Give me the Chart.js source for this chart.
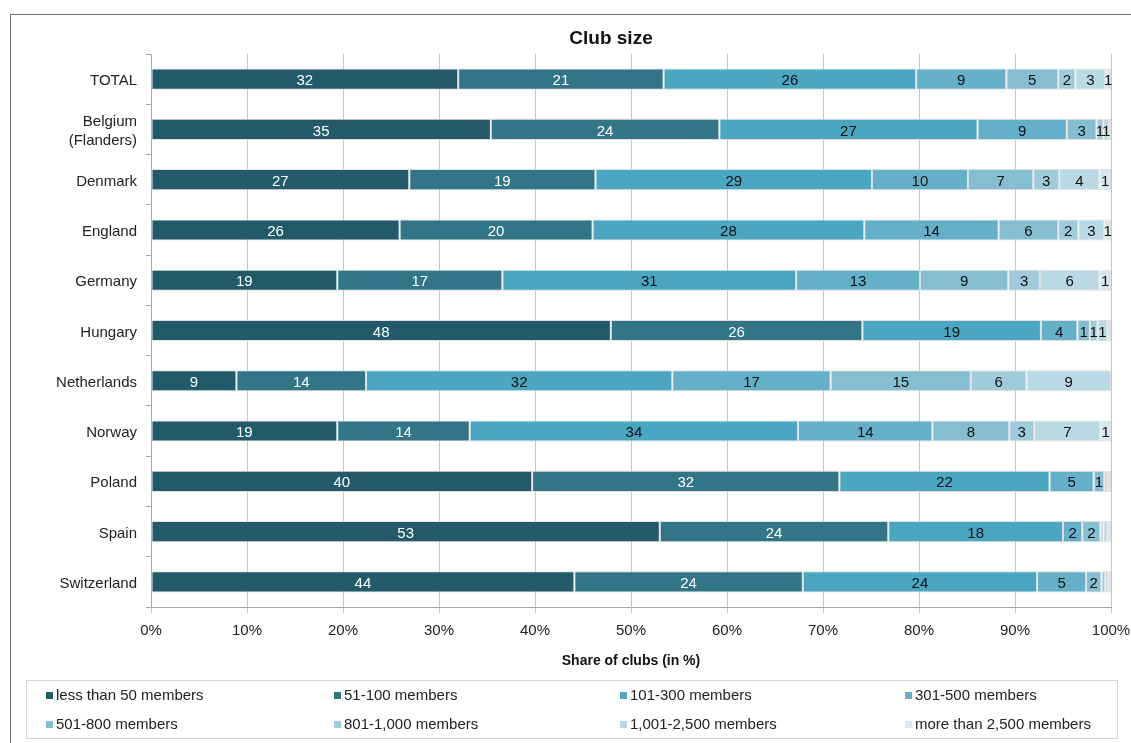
<!DOCTYPE html>
<html lang="en">
<head>
  <meta charset="UTF-8">
  <title>Club size</title>
  <script src="https://cdn.jsdelivr.net/npm/chart.js"></script>
  <style>
    body { margin: 0; background: #fff; font-family: "Liberation Sans", Arial, sans-serif; overflow: hidden; }
    #wrap { position: relative; width: 1131px; height: 743px; }
    #frame { position: absolute; left: 10px; top: 14px; width: 1200px; height: 800px; border: 1px solid #6e6e6e; }
    #chart { position: absolute; left: 0; top: 0; }
    #title { position: absolute; left: 511px; width: 200px; top: 26px; text-align: center; font-size: 19px; font-weight: bold; color: #111; line-height: 24px; }
    #legend { position: absolute; left: 26px; top: 680px; width: 1092px; height: 59px; border: 1px solid #d4d4d4; box-sizing: border-box; }
    .item { position: absolute; font-size: 15px; color: #222; white-space: nowrap; line-height: 18px; }
    .item span { display: inline-block; width: 7px; height: 7px; margin-right: 3px; vertical-align: 1px; }
  </style>
</head>
<body>
<div id="wrap">
  <div id="frame"></div>
  <canvas id="chart" width="1131" height="743"></canvas>
  <div id="title">Club size</div>
  <div id="legend"></div>
</div>

<script>
  // countries (rows) and size groups (series)
  const categories = ['TOTAL', ['Belgium', '(Flanders)'], 'Denmark', 'England', 'Germany', 'Hungary',
                      'Netherlands', 'Norway', 'Poland', 'Spain', 'Switzerland'];
  const sizeGroups = ['less than 50 members', '51-100 members', '101-300 members', '301-500 members',
                      '501-800 members', '801-1,000 members', '1,001-2,500 members', 'more than 2,500 members'];

  // share of clubs in %, one value per country
  const lessThan50 = [32.0, 35.4, 26.9, 25.9, 19.4, 47.9, 8.9, 19.4, 39.7, 53.0, 44.1];
  const m51to100   = [21.4, 23.8, 19.4, 20.1, 17.2, 26.2, 13.5, 13.8, 32.0, 23.8, 23.8];
  const m101to300  = [26.3, 26.9, 28.8, 28.3, 30.6, 18.6, 31.9, 34.2, 21.9, 18.2, 24.4];
  const m301to500  = [9.4, 9.3, 10.0, 14.0, 12.9, 3.8, 16.5, 14.0, 4.6, 2.0, 5.1];
  const m501to800  = [5.4, 3.1, 6.8, 6.2, 9.2, 1.3, 14.6, 8.0, 1.1, 1.9, 1.6];
  const m801to1000 = [1.8, 0.7, 2.7, 2.1, 3.3, 0.8, 5.8, 2.6, 0.3, 0.3, 0.4];
  const m1001to2500 = [3.1, 0.6, 4.2, 2.7, 6.2, 1.0, 8.8, 6.9, 0.2, 0.4, 0.3];
  const over2500   = [0.6, 0.2, 1.2, 0.7, 1.2, 0.4, 0.0, 1.1, 0.2, 0.4, 0.3];

  const xTicks = [0, 10, 20, 30, 40, 50, 60, 70, 80, 90, 100];

  const series = [lessThan50, m51to100, m101to300, m301to500, m501to800, m801to1000, m1001to2500, over2500];
  const colors = ['#235a69', '#317586', '#4aa6c1', '#65b0c9', '#86bed1', '#a0cbda', '#b9d9e4', '#d4e8ef'];

  Chart.defaults.font.family = '"Liberation Sans", Arial, sans-serif';
  Chart.defaults.color = '#222';

  // draws the rounded value in the middle of each segment
  const valueLabels = {
      id: 'valueLabels',
      afterDatasetsDraw(chart) {
          const ctx = chart.ctx;
          ctx.save();
          ctx.font = '15px "Liberation Sans", Arial, sans-serif';
          ctx.textAlign = 'center';
          ctx.textBaseline = 'middle';
          chart.data.datasets.forEach((ds, i) => {
              const meta = chart.getDatasetMeta(i);
              meta.data.forEach((bar, j) => {
                  const v = Math.round(ds.data[j]);
                  if (v < 1) return;
                  ctx.fillStyle = i < 2 ? '#ffffff' : '#111111';
                  ctx.fillText(String(v), (bar.x + bar.base) / 2, bar.y + 2);
              });
          });
          ctx.restore();
      }
  };

  const chart = new Chart(document.getElementById('chart'), {
      type: 'bar',
      data: {
          labels: categories,
          datasets: sizeGroups.map((name, i) => ({
              label: name,
              data: series[i],
              backgroundColor: colors[i],
              borderColor: 'rgba(220,220,220,0.9)',
              borderWidth: 1,
              borderSkipped: false,
              barPercentage: 0.42,
              categoryPercentage: 1
          }))
      },
      options: {
          indexAxis: 'y',
          responsive: false,
          animation: false,
          layout: { padding: { left: 20, right: 20, top: 54, bottom: 73 } },
          plugins: {
              legend: { display: false },
              tooltip: { enabled: false }
          },
          scales: {
              x: {
                  stacked: true,
                  min: 0,
                  max: 100,
                  afterBuildTicks: (s) => { s.ticks = xTicks.map(v => ({ value: v })); },
                  afterFit: (s) => { s.height = 63; s.paddingLeft = 0; s.paddingRight = 0; },
                  ticks: { callback: v => v + '%', font: { size: 15 }, color: '#222', padding: 9, maxRotation: 0 },
                  grid: { color: '#c6c6c6', tickLength: 6 },
                  border: { color: '#a6a6a6' },
                  title: {
                      display: true,
                      text: 'Share of clubs (in %)',
                      color: '#111',
                      font: { size: 14, weight: 'bold' },
                      padding: { top: 8, bottom: 0 }
                  }
              },
              y: {
                  stacked: true,
                  afterFit: (s) => { s.width = 131; },
                  ticks: { font: { size: 15, lineHeight: 1.3 }, color: '#222', padding: 9, labelOffset: 2 },
                  grid: { drawOnChartArea: false, drawTicks: true, tickLength: 5, offset: true, color: '#a6a6a6' },
                  border: { color: '#a6a6a6' }
              }
          }
      },
      plugins: [valueLabels]
  });

  // legend box: four columns, two rows
  const legend = document.getElementById('legend');
  const colX = [19, 307, 593, 878];
  const rowY = [5, 34];
  chart.data.datasets.forEach((ds, i) => {
      const item = document.createElement('div');
      item.className = 'item';
      item.style.left = colX[i % 4] + 'px';
      item.style.top = rowY[Math.floor(i / 4)] + 'px';
      const sw = document.createElement('span');
      sw.style.background = ds.backgroundColor;
      item.appendChild(sw);
      item.appendChild(document.createTextNode(ds.label));
      legend.appendChild(item);
  });
</script>
</body>
</html>
